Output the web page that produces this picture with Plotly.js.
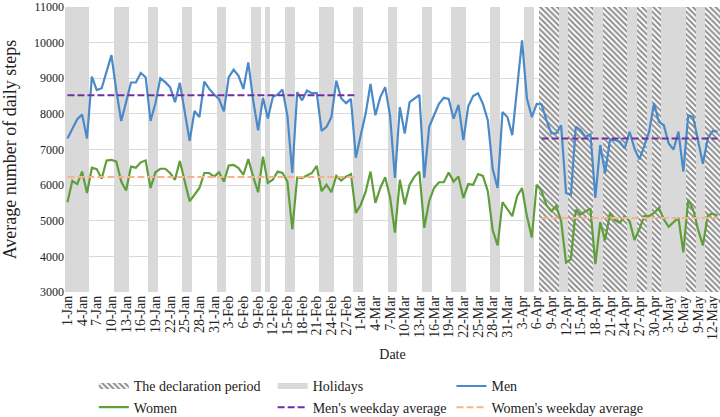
<!DOCTYPE html>
<html>
<head>
<meta charset="utf-8">
<script src="https://cdn.plot.ly/plotly-3.0.1.min.js"></script>
<style>
  html, body { margin: 0; background: #fff; overflow: hidden; }
  #myPlot { width: 720px; height: 425px; }
</style>
</head>
<body>
<div id="myPlot"></div>
<script>
// daily average steps, 1-Jan .. 13-May (2020)
var monthNames = ["Jan", "Feb", "Mar", "Apr", "May"];
var dates = [];
for (var d = new Date(Date.UTC(2020, 0, 1)); d <= new Date(Date.UTC(2020, 4, 13)); d.setUTCDate(d.getUTCDate() + 1)) {
  dates.push(d.getUTCDate() + "-" + monthNames[d.getUTCMonth()]);
}

var men = [
  7310, 7600, 7850, 7980, 7310, 9045, 8670, 8720, 9210, 9650,
  8650, 7800, 8330, 8880, 8880, 9150, 9030, 7800, 8300, 9000,
  8890, 8750, 8330, 8870, 8050, 7245, 8080, 7910, 8905, 8700,
  8545, 8420, 8070, 9030, 9240, 9070, 8700, 9445, 8380, 7540,
  8450, 7870, 8470, 8545, 8680, 7950, 6340, 8610, 8380, 8655,
  8580, 8580, 7520, 7635, 7910, 8930, 8440, 8300, 8420, 6770,
  7400, 8000, 8840, 7960, 8470, 8750, 7950, 6200, 8190, 7450,
  8330, 8420, 8530, 6200, 7640, 7960, 8280, 8450, 8420, 7865,
  8255, 7265, 8210, 8500, 8580, 8280, 7820, 6450, 5920, 8050,
  7910, 7400, 8800, 10065, 8430, 7910, 8280, 8265, 7820, 7450,
  7450, 7680, 5780, 5730, 7640, 7540, 7355, 7430, 5640, 7125,
  6340, 7280, 7265, 7220, 7030, 7500, 7030, 6725, 7095, 7500,
  8300, 7775, 7680, 7170, 7000, 7500, 6380, 7960, 7910, 7220,
  6600, 7310, 7520, 7500
];

var women = [
  5520, 6120, 6030, 6380, 5780, 6490, 6450, 6180, 6690, 6710,
  6660, 6100, 5850, 6520, 6490, 6640, 6690, 5920, 6360, 6460,
  6460, 6340, 6150, 6680, 6100, 5550, 5730, 5920, 6340, 6340,
  6240, 6360, 6100, 6550, 6570, 6480, 6290, 6730, 6240, 5800,
  6800, 6060, 6150, 6380, 6340, 6100, 4760, 6215, 6200, 6260,
  6340, 6540, 5830, 6010, 5800, 6260, 6130, 6240, 6310, 5220,
  5450, 5810, 6380, 5500, 5920, 6220, 5660, 4665, 6150, 5460,
  6010, 6240, 6380, 4800, 5550, 5920, 6080, 6080, 6355, 6100,
  6240, 5640, 6030, 6010, 6310, 6260, 5830, 4730, 4310, 5520,
  5315, 5130, 5690, 5920, 5130, 4530, 6010, 5830, 5440, 5270,
  5410, 4990, 3830, 3925, 5315, 5175, 5270, 5330, 3780, 4960,
  4450, 5220, 5020, 4945, 5130, 4990, 4460, 4760, 5130, 5130,
  5220, 5360, 5040, 4830, 4960, 5080, 4110, 5590, 5315, 4760,
  4310, 5150, 5200, 5150
];

var holidays = [
  "1-Jan", "2-Jan", "3-Jan", "4-Jan", "5-Jan", "11-Jan", "12-Jan", "13-Jan",
  "18-Jan", "19-Jan", "25-Jan", "26-Jan", "1-Feb", "2-Feb", "8-Feb", "9-Feb",
  "11-Feb", "15-Feb", "16-Feb", "22-Feb", "23-Feb", "24-Feb", "29-Feb", "1-Mar",
  "7-Mar", "8-Mar", "14-Mar", "15-Mar", "20-Mar", "21-Mar", "22-Mar", "28-Mar",
  "29-Mar", "4-Apr", "5-Apr", "11-Apr", "12-Apr", "18-Apr", "19-Apr", "25-Apr",
  "26-Apr", "29-Apr", "2-May", "3-May", "4-May", "5-May", "6-May", "9-May", "10-May"
];

var declarationStart = "7-Apr";
var declaration = dates.slice(dates.indexOf(declarationStart));

// weekday averages: before (Jan-Feb) and during the declaration
var beforePeriod = ["1-Jan", "29-Feb"];
var duringPeriod = ["7-Apr", "13-May"];
var menAvg = [8520, 7310];
var womenAvg = [6225, 5075];

var yTicks = [3000, 4000, 5000, 6000, 7000, 8000, 9000, 10000, 11000];
var yMin = 3000, yMax = 11000;

var tickDates = dates.filter(function (v, i) { return i % 3 == 0; });

var hatch = {shape: "\\", fgcolor: "#8f8f8f", bgcolor: "#ffffff", size: 4, solidity: 0.5};
var dashed = "7px,3px";

var data = [
  {type: "bar", x: declaration, y: declaration.map(function () { return yMax; }),
   marker: {color: "#ffffff", pattern: hatch, line: {width: 0}},
   showlegend: false, hoverinfo: "skip"},
  {type: "bar", x: holidays, y: holidays.map(function () { return yMax; }),
   marker: {color: "#d9d9d9", line: {width: 0}},
   showlegend: false, hoverinfo: "skip"},
  // legend entries for the two shaded series
  {type: "scatter", x: [null], y: [null], mode: "none", fill: "toself", legend: "legend",
   fillcolor: "#ffffff", fillpattern: hatch, name: "The declaration period"},
  {type: "scatter", x: [null], y: [null], mode: "none", fill: "toself", legend: "legend2",
   fillcolor: "#d9d9d9", name: "Holidays"},
  {type: "scatter", mode: "lines", x: dates, y: men, name: "Men", legend: "legend3",
   line: {color: "#4a8ac8", width: 2.2}},
  {type: "scatter", mode: "lines", x: dates, y: women, name: "Women", legend: "legend",
   line: {color: "#5f9e3a", width: 2.2}},
  {type: "scatter", mode: "lines", x: beforePeriod, y: [menAvg[0], menAvg[0]],
   name: "Men's weekday average", legend: "legend2", legendgroup: "ma",
   line: {color: "#7030a0", width: 2, dash: dashed}},
  {type: "scatter", mode: "lines", x: duringPeriod, y: [menAvg[1], menAvg[1]],
   legendgroup: "ma", showlegend: false, legend: "legend2",
   line: {color: "#7030a0", width: 2, dash: dashed}},
  {type: "scatter", mode: "lines", x: beforePeriod, y: [womenAvg[0], womenAvg[0]],
   name: "Women's weekday average", legend: "legend3", legendgroup: "wa",
   line: {color: "#f7b48c", width: 2, dash: dashed}},
  {type: "scatter", mode: "lines", x: duringPeriod, y: [womenAvg[1], womenAvg[1]],
   legendgroup: "wa", showlegend: false, legend: "legend3",
   line: {color: "#f7b48c", width: 2, dash: dashed}}
];

var serif = "'Liberation Serif', 'Times New Roman', serif";

function legendBox(x) {
  return {
    orientation: "v", x: x, xanchor: "left", y: -0.461, yanchor: "bottom",
    traceorder: "normal", font: {size: 14}, bgcolor: "rgba(0,0,0,0)",
    tracegroupgap: 0
  };
}

var layout = {
  width: 720, height: 425,
  margin: {l: 65, r: 0, t: 7, b: 133},
  paper_bgcolor: "#ffffff", plot_bgcolor: "#ffffff",
  font: {family: serif, color: "#222", size: 13},
  barmode: "overlay", bargap: 0,
  xaxis: {
    type: "category", categoryorder: "array", categoryarray: dates,
    range: [-0.5, dates.length - 0.5],
    tickvals: tickDates, ticktext: tickDates, tickangle: -90,
    tickfont: {size: 14}, showgrid: false, zeroline: false, ticks: "",
    automargin: false,
    title: {text: "Date", font: {size: 14}, standoff: 10}
  },
  yaxis: {
    range: [yMin, yMax], tickvals: yTicks, ticktext: yTicks.map(String),
    ticklabeloverflow: "allow",
    gridcolor: "#d9d9d9", gridwidth: 1, zeroline: false, ticks: "",
    tickfont: {size: 12}, automargin: false,
    title: {text: "Average number of daily steps", font: {size: 18}, standoff: 18}
  },
  legend: legendBox(0.044),
  legend2: legendBox(0.317),
  legend3: legendBox(0.59),
  showlegend: true
};

Plotly.newPlot("myPlot", data, layout, {staticPlot: true});
</script>
</body>
</html>
